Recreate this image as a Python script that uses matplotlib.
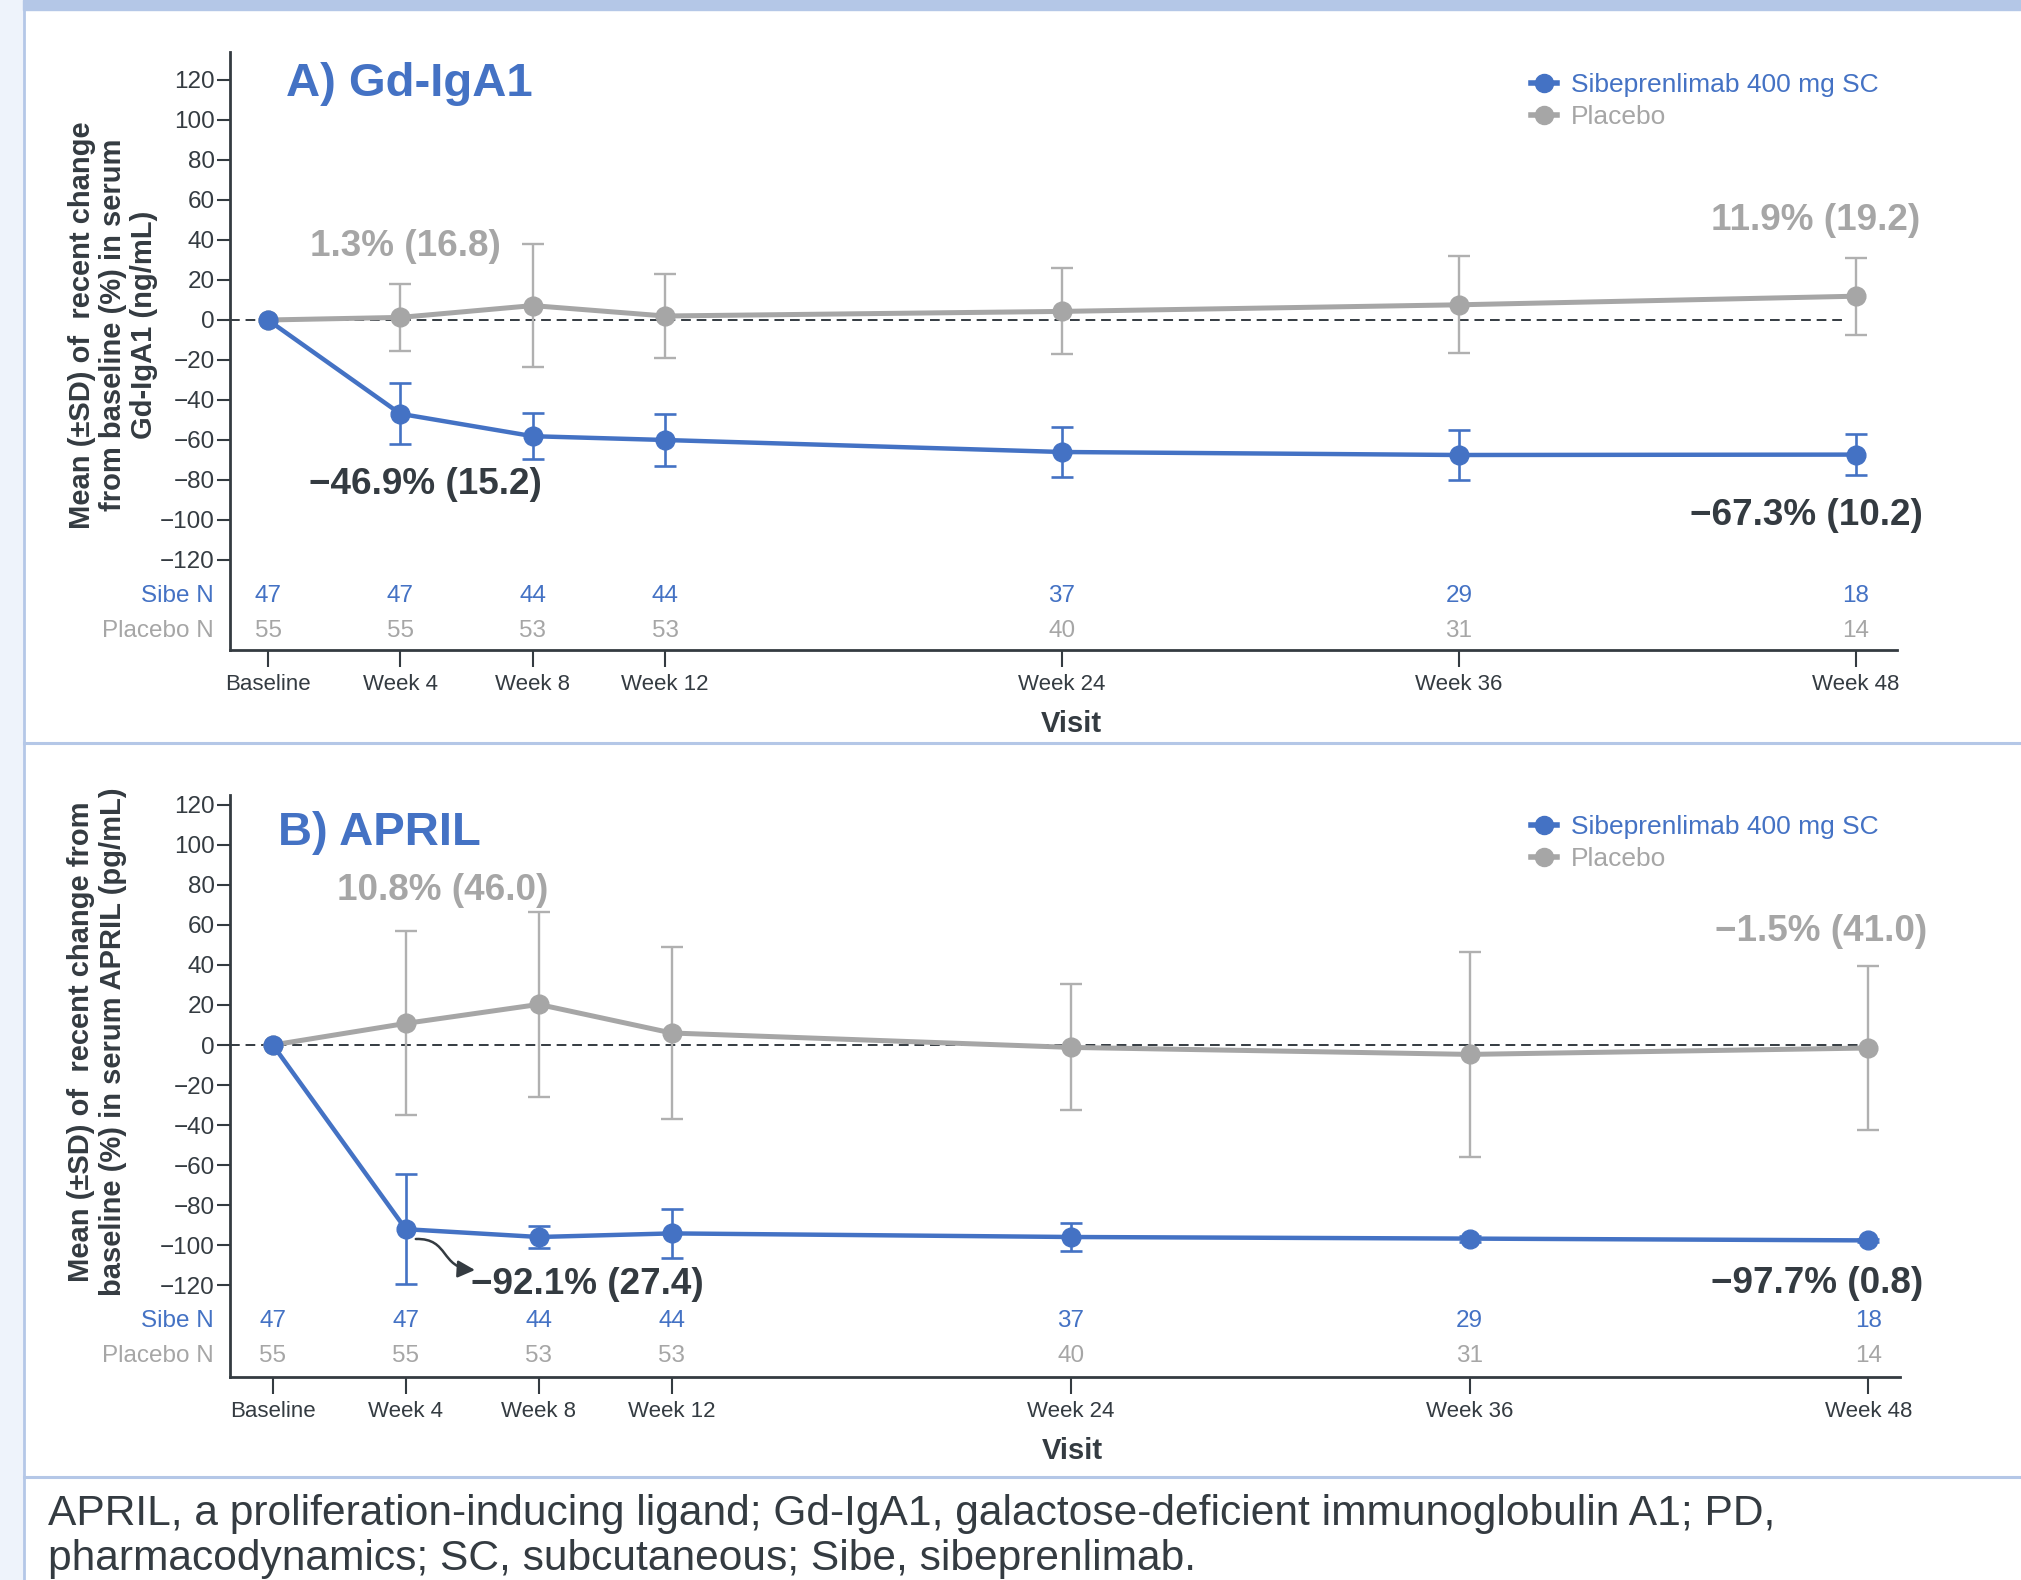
import matplotlib
matplotlib.use('Agg')
import matplotlib.pyplot as plt
from matplotlib.lines import Line2D
from matplotlib.patches import FancyArrowPatch, Rectangle
from matplotlib.path import Path

plt.rcParams['font.family'] = ['Liberation Sans', 'DejaVu Sans']

BLUE = '#4472C4'
GRAY = '#A6A6A6'
GRAY_ERR = '#B0B0B0'
DARK = '#343B41'
FRAME = '#B4C7E7'
STRIP = '#EEF3FB'

# Visits (weeks) and labels
weeks = [0, 4, 8, 12, 24, 36, 48]
visit_labels = ['Baseline', 'Week 4', 'Week 8', 'Week 12', 'Week 24', 'Week 36', 'Week 48']

# A) Gd-IgA1, mean % change and SD
gd_sibe_mean = [0, -46.9, -58.1, -60.0, -66.0, -67.5, -67.3]
gd_sibe_sd = [0, 15.2, 11.6, 13.2, 12.6, 12.5, 10.2]
gd_pbo_mean = [0, 1.3, 7.2, 2.0, 4.3, 7.6, 11.9]
gd_pbo_sd = [0, 16.8, 30.9, 21.2, 21.5, 24.2, 19.2]

# B) APRIL, mean % change and SD
april_sibe_mean = [0, -92.1, -96.0, -94.2, -96.0, -96.8, -97.7]
april_sibe_sd = [0, 27.4, 5.3, 12.4, 6.8, 1.5, 0.8]
april_pbo_mean = [0, 10.8, 20.3, 6.0, -1.2, -4.7, -1.5]
april_pbo_sd = [0, 46.0, 46.3, 43.1, 31.5, 51.2, 41.0]

# patients per visit
sibe_n = [47, 47, 44, 44, 37, 29, 18]
placebo_n = [55, 55, 53, 53, 40, 31, 14]

W, H = 2021, 1580


def fx(px):
    return px / W


def fy(py):
    return 1 - py / H


def draw_panel(ax, sibe_mean, sibe_sd, pbo_mean, pbo_sd, xlim, ylim):
    ax.set_xlim(*xlim)
    ax.set_ylim(*ylim)

    ax.hlines(0, xlim[0], 47.7, colors=DARK, linestyles=(0, (5, 3)), lw=1.4, zorder=1)
    ax.errorbar(weeks, pbo_mean, yerr=pbo_sd, color=GRAY, lw=3.6, marker='o', ms=13.5,
                ecolor=GRAY_ERR, elinewidth=1.7, capsize=8, capthick=1.7,
                errorevery=(1, 1), zorder=2)
    ax.errorbar(weeks, sibe_mean, yerr=sibe_sd, color=BLUE, lw=3.2, marker='o', ms=13.5,
                ecolor=BLUE, elinewidth=1.9, capsize=8, capthick=1.9,
                errorevery=(1, 1), zorder=3)

    # N rows under the curves
    for x, n1, n2 in zip(weeks, sibe_n, placebo_n):
        ax.text(x, -138, str(n1), color=BLUE, fontsize=17.5, ha='center', va='center')
        ax.text(x, -155.5, str(n2), color=GRAY, fontsize=17.5, ha='center', va='center')
    tr = ax.get_yaxis_transform()
    ax.text(-0.010, -138, 'Sibe N', color=BLUE, fontsize=17.5, ha='right', va='center', transform=tr)
    ax.text(-0.010, -155.5, 'Placebo N', color=GRAY, fontsize=17.5, ha='right', va='center', transform=tr)

    ax.set_yticks(range(-120, 121, 20))
    ax.set_xticks(weeks)
    ax.set_xticklabels(visit_labels)
    for side in ['top', 'right']:
        ax.spines[side].set_visible(False)
    for side in ['left', 'bottom']:
        ax.spines[side].set_linewidth(2)
        ax.spines[side].set_color(DARK)
    ax.tick_params(axis='y', length=9.5, width=1.5, pad=1.5, labelsize=17.5, colors=DARK)
    ax.tick_params(axis='x', length=12, width=1.5, pad=5, labelsize=16, colors=DARK)

    handles = [Line2D([], [], color=BLUE, lw=4, marker='o', ms=13),
               Line2D([], [], color=GRAY, lw=4, marker='o', ms=13)]
    return handles


fig = plt.figure(figsize=(W / 100, H / 100), dpi=100)

# page decoration
fig.patches.append(Rectangle((0, 0), fx(23), 1, transform=fig.transFigure, color=STRIP, zorder=0))
fig.patches.append(Rectangle((fx(23), fy(10)), 1, 10 / H, transform=fig.transFigure,
                             color=FRAME, zorder=0))
fig.lines.append(Line2D([fx(24), fx(24)], [0, 1], transform=fig.transFigure, color=FRAME, lw=2))
for py in [743, 1477]:
    fig.lines.append(Line2D([fx(24), 1], [fy(py), fy(py)], transform=fig.transFigure, color=FRAME, lw=2.2))

# panel A
ax1 = fig.add_axes([fx(230), fy(650), fx(1897 - 230), (650 - 52) / H])
h1 = draw_panel(ax1, gd_sibe_mean, gd_sibe_sd, gd_pbo_mean, gd_pbo_sd, (-1.15, 49.24), (-165, 134))

# panel B
ax2 = fig.add_axes([fx(230), fy(1377), fx(1900 - 230), (1377 - 795) / H])
h2 = draw_panel(ax2, april_sibe_mean, april_sibe_sd, april_pbo_mean, april_pbo_sd, (-1.29, 48.95), (-166, 125))

labels = ['Sibeprenlimab 400 mg SC', 'Placebo']
for ax, h, top in [(ax1, h1, 73), (ax2, h2, 815)]:
    ax.legend(h, labels, loc='upper left', bbox_to_anchor=(fx(1531), fy(top)),
              bbox_transform=fig.transFigure, frameon=False, fontsize=19,
              handlelength=1.0, handletextpad=0.5, labelspacing=0.3,
              borderpad=0, borderaxespad=0, labelcolor=[BLUE, GRAY])

# panel titles
fig.text(fx(286), fy(96), 'A) Gd-IgA1', color=BLUE, fontsize=34, fontweight='bold', va='baseline')
fig.text(fx(278), fy(845), 'B) APRIL', color=BLUE, fontsize=34, fontweight='bold', va='baseline')

# y labels
fig.text(fx(113), fy(325), 'Mean (\u00b1SD) of  recent change\nfrom baseline (%) in serum\nGd-IgA1 (ng/mL)',
         rotation=90, ha='center', va='center', multialignment='center', fontsize=21,
         fontweight='bold', color=DARK, linespacing=1.15)
fig.text(fx(97), fy(1042), 'Mean (\u00b1SD) of  recent change from\nbaseline (%) in serum APRIL (pg/mL)',
         rotation=90, ha='center', va='center', multialignment='center', fontsize=21,
         fontweight='bold', color=DARK, linespacing=1.15)

# x labels
fig.text(fx(1071), fy(724), 'Visit', ha='center', va='center', fontsize=21, fontweight='bold', color=DARK)
fig.text(fx(1072), fy(1451), 'Visit', ha='center', va='center', fontsize=21, fontweight='bold', color=DARK)

# value callouts
callouts_a = [(1.27, 32, '1.3% (16.8)', GRAY, 'left'),
              (1.24, -87, '\u221246.9% (15.2)', DARK, 'left'),
              (49.94, 45, '11.9% (19.2)', GRAY, 'right'),
              (50.03, -102.5, '\u221267.3% (10.2)', DARK, 'right')]
callouts_b = [(1.93, 72.5, '10.8% (46.0)', GRAY, 'left'),
              (49.76, 52, '\u22121.5% (41.0)', GRAY, 'right'),
              (5.96, -124.5, '\u221292.1% (27.4)', DARK, 'left'),
              (49.64, -124, '\u221297.7% (0.8)', DARK, 'right')]
for ax, items in [(ax1, callouts_a), (ax2, callouts_b)]:
    for x, y, s, c, ha in items:
        ax.text(x, y, s, color=c, fontsize=26.6, fontweight='bold', ha=ha, va='baseline', clip_on=False)

# curved pointer to the week 4 value in panel B
arrow_path = Path([(4.30, -97.0), (5.32, -96.5), (5.02, -111.5), (6.08, -112.5)],
                  [Path.MOVETO, Path.CURVE4, Path.CURVE4, Path.CURVE4])
ax2.add_patch(FancyArrowPatch(path=arrow_path, arrowstyle='-|>', mutation_scale=26,
                              color=DARK, lw=1.8, zorder=4, clip_on=False))

# footnote
fig.text(fx(48), fy(1525), 'APRIL, a proliferation-inducing ligand; Gd-IgA1, galactose-deficient immunoglobulin A1; PD,',
         fontsize=30.6, color=DARK, va='baseline')
fig.text(fx(48), fy(1570), 'pharmacodynamics; SC, subcutaneous; Sibe, sibeprenlimab.',
         fontsize=30.6, color=DARK, va='baseline')

fig.savefig('out.png', dpi=100)
